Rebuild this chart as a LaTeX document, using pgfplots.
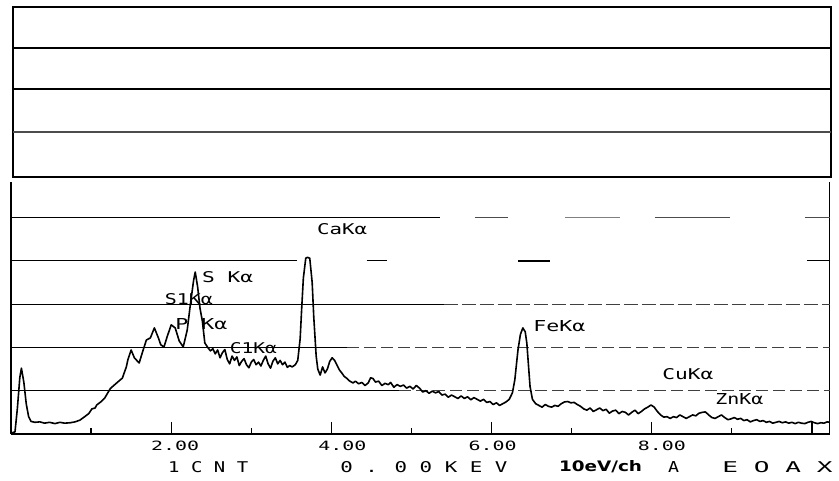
\documentclass[border=0pt]{standalone}
\usepackage{fontspec}
\setmainfont{DejaVu Sans}
\newfontfamily\plotfont{DejaVu Sans Mono}
\usepackage{graphicx}
\usepackage{pgfplots}
\pgfplotsset{compat=1.18}
\newcommand{\lab}[3]{\resizebox{#1}{#2}{\plotfont #3}}
\newcommand{\tl}[2]{\hspace*{#1}\resizebox{48pt}{9.5pt}{\plotfont #2}}
\begin{document}
\begin{tikzpicture}
\path[use as bounding box] (0,0) rectangle (839pt,481pt);
% ---------- upper empty box ----------
\begin{axis}[at={(13pt,304pt)}, anchor=south west, scale only axis,
  width=818pt, height=170pt, xmin=0, xmax=1, ymin=0, ymax=4,
  xtick=\empty, ytick=\empty,
  axis line style={black, line width=1.8pt}]
\addplot[black!70, line width=1.2pt] coordinates {(0,1.06)(1,1.06)};
\addplot[black, line width=1.9pt] coordinates {(0,2.07)(1,2.07)};
\addplot[black, line width=1.8pt] coordinates {(0,3.04)(1,3.04)};
\end{axis}
% ---------- spectrum ----------
\begin{axis}[at={(11pt,47pt)}, anchor=south west, scale only axis,
  width=818.6pt, height=252pt, xmin=0, xmax=10.22, ymin=0, ymax=5.82,
  axis x line*=bottom, axis y line*=box, ytick=\empty,
  xtick={2,4,6,8,10}, minor xtick={1,3,5,7,9},
  xticklabels={\tl{8pt}{2.00},\tl{22pt}{4.00},\tl{2pt}{6.00},\tl{20pt}{8.00},{}},
  xticklabel style={anchor=north, inner sep=0pt, yshift=-7pt},
  tick align=inside, major tick length=12pt, minor tick length=6pt,
  xtick style={black, line width=1.2pt},
  axis line style={black, line width=1.6pt},
  clip=false]
% grid-like horizontal lines (partly broken as in the printout)
\addplot[black, line width=1pt] coordinates {(0,5)(5.36,5)};
\addplot[black!70, line width=0.9pt] coordinates {(5.79,5)(6.2,5)};
\addplot[black!50, line width=0.7pt] coordinates {(6.92,5)(7.6,5)};
\addplot[black!70, line width=0.8pt] coordinates {(8.04,5)(8.98,5)};
\addplot[black!70, line width=0.8pt] coordinates {(9.91,5)(10.22,5)};
\addplot[black, line width=1pt] coordinates {(0,4)(3.57,4)};
\addplot[black, line width=1pt] coordinates {(4.44,4)(4.69,4)};
\addplot[black, line width=2.4pt] coordinates {(6.33,4)(6.73,4)};
\addplot[black, line width=1pt] coordinates {(9.94,4)(10.22,4)};
\addplot[black, line width=1pt] coordinates {(0,3)(5.4,3)};
\addplot[black!75, line width=0.8pt, dash pattern=on 14pt off 4pt] coordinates {(5.4,3)(10.22,3)};
\addplot[black, line width=1pt] coordinates {(0,2)(4.2,2)};
\addplot[black!75, line width=0.8pt, dash pattern=on 12pt off 5pt] coordinates {(4.2,2)(10.22,2)};
\addplot[black, line width=1pt] coordinates {(0,1)(4.85,1)};
\addplot[black!75, line width=0.8pt, dash pattern=on 12pt off 5pt] coordinates {(4.85,1)(10.22,1)};
% spectrum trace
\addplot[black, line width=1.6pt, line join=round] coordinates {
(0.00,0.02)(0.05,0.05)(0.08,0.6)(0.11,1.3)(0.13,1.52)(0.16,1.2)(0.19,0.7)(0.22,0.4)(0.25,0.29)
(0.30,0.27)(0.36,0.28)(0.42,0.25)(0.48,0.27)(0.55,0.24)(0.61,0.27)(0.67,0.25)(0.74,0.26)(0.80,0.28)
(0.86,0.32)(0.92,0.40)(0.97,0.47)(1.01,0.58)(1.05,0.60)(1.07,0.67)(1.12,0.74)(1.17,0.83)(1.24,1.05)
(1.32,1.18)(1.39,1.29)(1.44,1.55)(1.46,1.72)(1.50,1.94)(1.54,1.76)(1.60,1.64)(1.65,1.94)(1.69,2.17)
(1.74,2.22)(1.79,2.45)(1.84,2.22)(1.87,2.06)(1.91,2.01)(1.95,2.25)(2.00,2.52)(2.05,2.45)(2.10,2.15)
(2.15,2.01)(2.20,2.4)(2.24,3.0)(2.28,3.55)(2.30,3.74)(2.33,3.4)(2.36,2.9)(2.39,2.6)(2.42,2.10)
(2.46,1.99)(2.49,1.92)(2.52,1.97)(2.55,1.85)(2.58,1.94)(2.61,1.76)(2.64,1.88)(2.67,1.95)(2.70,1.72)
(2.73,1.62)(2.76,1.80)(2.79,1.70)(2.82,1.78)(2.85,1.58)(2.88,1.68)(2.91,1.74)(2.94,1.60)(2.97,1.53)
(3.00,1.66)(3.03,1.72)(3.06,1.60)(3.09,1.66)(3.12,1.57)(3.15,1.70)(3.18,1.80)(3.21,1.62)(3.24,1.52)
(3.27,1.68)(3.30,1.76)(3.33,1.62)(3.36,1.70)(3.39,1.60)(3.42,1.66)(3.45,1.54)(3.48,1.58)(3.51,1.55)
(3.55,1.60)(3.58,1.70)(3.61,2.2)(3.63,2.93)(3.65,3.6)(3.68,4.06)(3.70,4.08)(3.73,4.06)(3.76,3.5)
(3.78,2.70)(3.81,1.80)(3.83,1.50)(3.86,1.36)(3.89,1.55)(3.92,1.41)(3.95,1.50)(3.98,1.68)(4.01,1.76)
(4.04,1.70)(4.07,1.59)(4.10,1.48)(4.13,1.41)(4.16,1.33)(4.19,1.29)(4.23,1.22)(4.27,1.18)(4.30,1.22)
(4.34,1.16)(4.38,1.19)(4.42,1.12)(4.46,1.18)(4.49,1.30)(4.52,1.28)(4.55,1.20)(4.59,1.22)(4.63,1.12)
(4.67,1.17)(4.71,1.14)(4.74,1.19)(4.78,1.08)(4.82,1.14)(4.86,1.10)(4.90,1.13)(4.94,1.06)(4.98,1.10)
(5.02,1.04)(5.06,1.12)(5.10,1.06)(5.14,0.97)(5.18,1.00)(5.22,0.94)(5.26,0.99)(5.30,0.95)(5.34,0.98)
(5.38,0.90)(5.42,0.92)(5.46,0.85)(5.50,0.90)(5.54,0.86)(5.58,0.82)(5.62,0.88)(5.66,0.82)(5.70,0.86)
(5.74,0.79)(5.78,0.84)(5.82,0.80)(5.86,0.76)(5.90,0.80)(5.94,0.73)(5.98,0.75)(6.02,0.68)(6.06,0.72)
(6.10,0.66)(6.14,0.70)(6.18,0.74)(6.22,0.80)(6.26,0.95)(6.29,1.25)(6.31,1.6)(6.33,1.95)(6.36,2.3)
(6.39,2.45)(6.42,2.36)(6.44,2.10)(6.46,1.6)(6.48,1.10)(6.51,0.80)(6.55,0.70)(6.59,0.66)(6.63,0.62)
(6.67,0.68)(6.71,0.64)(6.75,0.62)(6.79,0.66)(6.83,0.64)(6.87,0.70)(6.91,0.74)(6.95,0.75)(6.99,0.72)
(7.03,0.73)(7.07,0.68)(7.11,0.64)(7.15,0.58)(7.19,0.55)(7.23,0.60)(7.27,0.52)(7.31,0.56)(7.35,0.60)
(7.39,0.54)(7.43,0.57)(7.47,0.48)(7.51,0.53)(7.55,0.55)(7.59,0.47)(7.63,0.52)(7.67,0.50)(7.71,0.44)
(7.75,0.50)(7.79,0.55)(7.83,0.47)(7.87,0.52)(7.91,0.58)(7.95,0.62)(7.99,0.67)(8.03,0.62)(8.07,0.52)
(8.11,0.44)(8.15,0.39)(8.19,0.40)(8.23,0.36)(8.27,0.40)(8.31,0.38)(8.35,0.44)(8.39,0.40)(8.43,0.36)
(8.47,0.40)(8.51,0.44)(8.55,0.42)(8.59,0.48)(8.63,0.50)(8.67,0.51)(8.71,0.44)(8.75,0.38)(8.79,0.36)
(8.83,0.40)(8.87,0.44)(8.91,0.38)(8.95,0.33)(8.99,0.35)(9.03,0.38)(9.07,0.34)(9.11,0.36)(9.15,0.31)
(9.19,0.33)(9.23,0.28)(9.27,0.31)(9.31,0.33)(9.35,0.29)(9.39,0.31)(9.43,0.27)(9.47,0.29)(9.51,0.25)
(9.55,0.27)(9.59,0.29)(9.63,0.26)(9.67,0.28)(9.71,0.25)(9.75,0.27)(9.79,0.24)(9.83,0.27)(9.87,0.25)
(9.91,0.24)(9.95,0.27)(9.99,0.29)(10.03,0.26)(10.07,0.24)(10.11,0.26)(10.15,0.25)(10.19,0.28)(10.22,0.27)
};
% peak labels
\node[anchor=west, inner sep=0pt] at (axis cs:3.82,4.73) {\lab{50pt}{11pt}{CaKα}};
\node[anchor=west, inner sep=0pt] at (axis cs:2.385,3.63) {\lab{51pt}{11pt}{S Kα}};
\node[anchor=west, inner sep=0pt] at (axis cs:1.92,3.12) {\lab{48pt}{11pt}{S1Kα}};
\node[anchor=west, inner sep=0pt] at (axis cs:2.05,2.54) {\lab{52pt}{11pt}{P Kα}};
\node[anchor=west, inner sep=0pt] at (axis cs:2.73,1.99) {\lab{47pt}{11pt}{C1Kα}};
\node[anchor=west, inner sep=0pt] at (axis cs:6.52,2.49) {\lab{52pt}{11pt}{FeKα}};
\node[anchor=west, inner sep=0pt] at (axis cs:8.13,1.39) {\lab{51pt}{11pt}{CuKα}};
\node[anchor=west, inner sep=0pt] at (axis cs:8.79,0.81) {\lab{48pt}{11pt}{ZnKα}};
% status line of the printout
\node[anchor=west, inner sep=0pt] at (axis cs:1.96,-0.76) {\lab{80pt}{11pt}{1 C N T}};
\node[anchor=west, inner sep=0pt] at (axis cs:4.11,-0.76) {\lab{167pt}{11pt}{0 . 0 0 K E V}};
\node[anchor=west, inner sep=0pt] at (axis cs:6.84,-0.76) {\resizebox{83pt}{11pt}{\bfseries 10eV/ch}};
\node[anchor=west, inner sep=0pt] at (axis cs:8.20,-0.76) {\lab{11pt}{11pt}{A}};
\node[anchor=west, inner sep=0pt] at (axis cs:8.88,-0.76) {\lab{110pt}{11pt}{E O A X}};
\end{axis}
\end{tikzpicture}
\end{document}
